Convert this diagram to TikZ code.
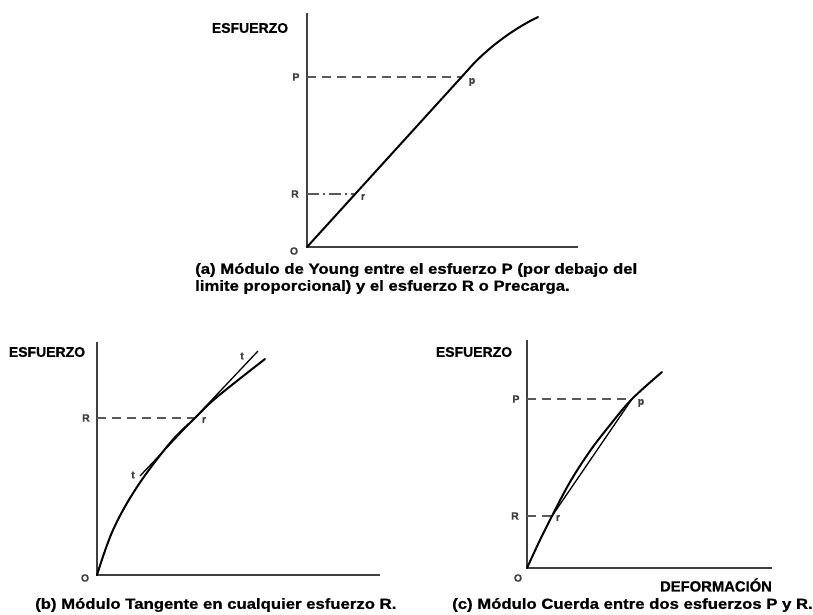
\documentclass[tikz,border=0pt]{standalone}
\usepackage{fontspec}
\setmainfont{Liberation Sans}[BoldFeatures={FakeBold=0.8}]
\usepackage{graphicx}
\newcommand{\captxt}[1]{\scalebox{1.14}[1]{#1}}
\begin{document}
\begin{tikzpicture}[x=1pt,y=-1pt,
  axis/.style={draw=black!75, line width=1.3pt},
  curve/.style={draw=black, line width=2pt, line cap=round, line join=round},
  guide/.style={draw=black!65, line width=1.3pt, dash pattern=on 9pt off 6pt},
  guidedot/.style={draw=black!65, line width=1.3pt, dash pattern=on 12pt off 4pt on 2pt off 4pt},
  tang/.style={draw=black, line width=1.3pt},
  lbl/.style={font=\bfseries\fontsize{10.5}{11}\selectfont, text=black!75, inner sep=0pt},
  ttl/.style={font=\bfseries\fontsize{14}{16}\selectfont, inner sep=0pt},
  captn/.style={font=\bfseries\fontsize{14.67}{17}\selectfont, inner sep=0pt, anchor=west}]
\useasboundingbox (0,0) rectangle (813,614);
\fill[white] (0,0) rectangle (813,614);

% ---------------- panel (a) ----------------
\coordinate (Oa) at (307,247);
\coordinate (Ta) at (307,13);
\coordinate (Xa) at (578,247);
\coordinate (Pa) at (307,77);
\coordinate (Ra) at (307,194);
\coordinate (pa) at (462,77);
\coordinate (ra) at (355,194);
\coordinate (ka) at (467,71);
\coordinate (Ea) at (538,17);
\draw[axis] (Ta) -- (Oa) -- (Xa);
\draw[guide] (Pa) -- (pa);
\draw[guidedot] (Ra) -- (ra);
\draw[curve] (Oa) -- (ka) .. controls (484,51) and (511,30) .. (Ea);
\node[ttl] (ya) at (250,28) {ESFUERZO};
\node[lbl] (la-P) at (296,77) {P};
\node[lbl] (la-R) at (295,194) {R};
\node[lbl] (la-O) at (294,251) {O};
\node[lbl] (la-p) at (472,82) {p};
\node[lbl] (la-r) at (363,197) {r};
\node[captn] (ca1) at (195,270) {\captxt{(a) Módulo de Young entre el esfuerzo P (por debajo del}};
\node[captn] (ca2) at (195,287) {\captxt{limite proporcional) y el esfuerzo R o Precarga.}};

% ---------------- panel (b) ----------------
\coordinate (Ob) at (97,575);
\coordinate (Tb) at (97,342);
\coordinate (Xb) at (380,575);
\coordinate (Rb) at (97,418);
\coordinate (rb) at (195,418);
\coordinate (t1) at (140,476);
\coordinate (t2) at (258,351);
\draw[axis] (Tb) -- (Ob) -- (Xb);
\draw[guide] (Rb) -- (rb);
\draw[curve] plot[smooth, tension=0.6] coordinates {(97,575) (113,530) (137,487) (170,443) (195,418) (217,397) (265,359)};
\draw[tang] (t1) -- (t2);
\node[ttl] (yb) at (47,352) {ESFUERZO};
\node[lbl] (lb-R) at (86,418) {R};
\node[lbl] (lb-r) at (204,420) {r};
\node[lbl] (lb-t1) at (242,356) {t};
\node[lbl] (lb-t2) at (133,475) {t};
\node[lbl] (lb-O) at (85,578) {O};
\node[captn] (cb) at (35,605) {\captxt{(b) Módulo Tangente en cualquier esfuerzo R.}};

% ---------------- panel (c) ----------------
\coordinate (Oc) at (527,568);
\coordinate (Tc) at (527,340);
\coordinate (Xc) at (772,568);
\coordinate (Pc) at (527,399);
\coordinate (Rc) at (527,516);
\coordinate (pc) at (632,399);
\coordinate (rc) at (552,516);
\draw[axis] (Tc) -- (Oc) -- (Xc);
\draw[guide] (Pc) -- (pc);
\draw[guide] (Rc) -- (rc);
\draw[curve] plot[smooth, tension=0.6] coordinates {(527,568) (540,540) (552,516) (570,482) (590,451) (610,425) (632,399) (662,372)};
\draw[tang] (rc) -- (pc);
\node[ttl] (yc) at (474,352) {ESFUERZO};
\node[lbl] (lc-P) at (516,399) {P};
\node[lbl] (lc-R) at (515,516) {R};
\node[lbl] (lc-p) at (641,403) {p};
\node[lbl] (lc-r) at (558,518) {r};
\node[lbl] (lc-O) at (518,578) {O};
\node[ttl, font=\bfseries\fontsize{14.8}{16}\selectfont] (xc) at (716,585) {DEFORMACIÓN};
\node[captn] (cc) at (452,605) {\captxt{(c) Módulo Cuerda entre dos esfuerzos P y R.}};
\end{tikzpicture}
\end{document}
